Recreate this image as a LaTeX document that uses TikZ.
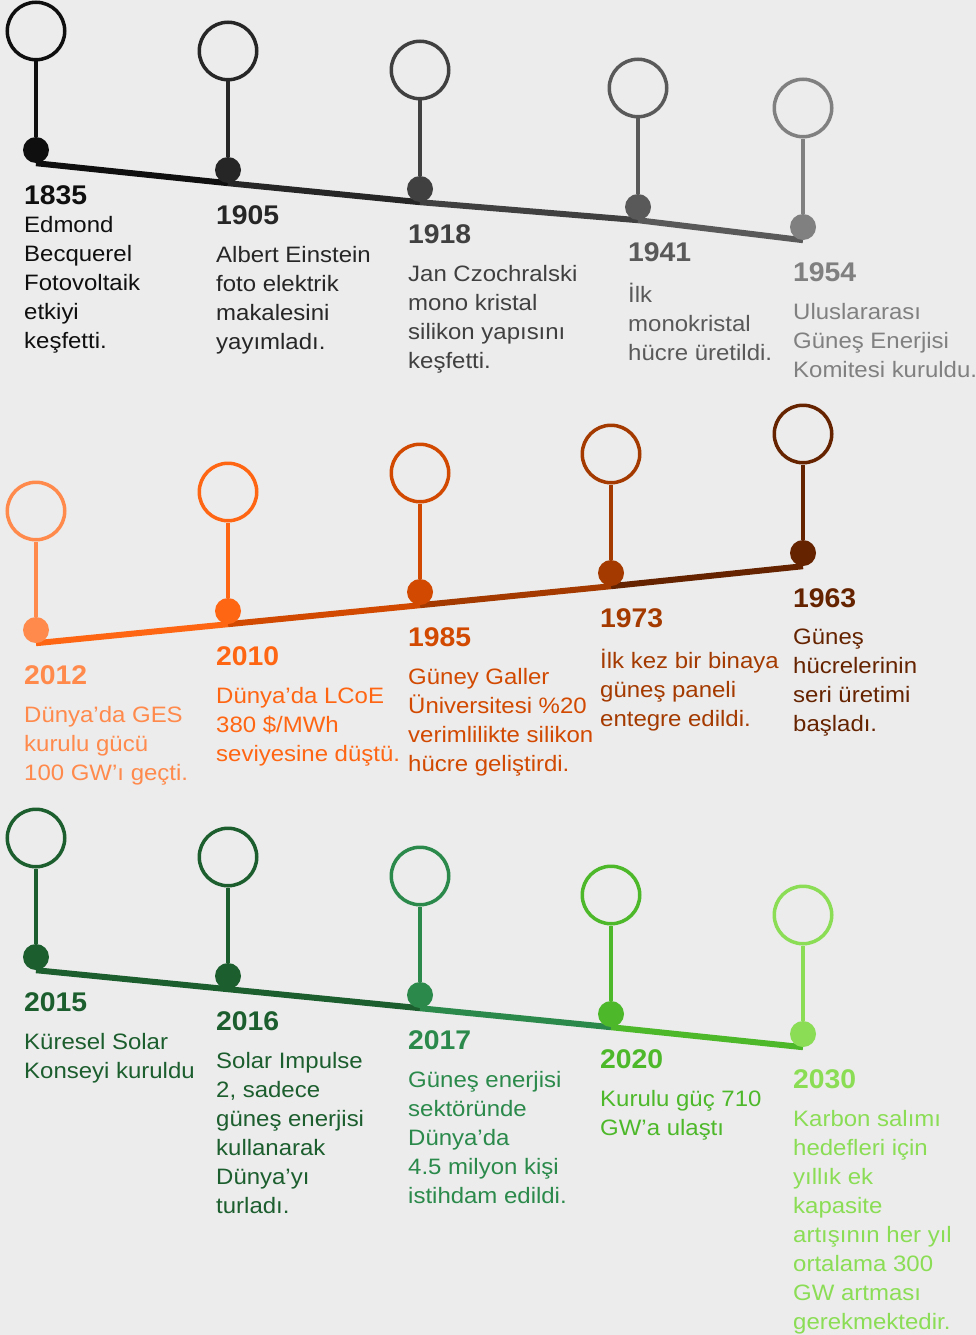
\documentclass[tikz,border=0pt]{standalone}
\usepackage{fontspec}
\setmainfont{Liberation Sans}
\newfontfamily\yearfont[FakeStretch=1.05]{Liberation Sans}
\newfontfamily\descfont[FakeStretch=1.075]{Liberation Sans}
\usepackage{xcolor}
\usetikzlibrary{positioning,backgrounds}

% one colour per milestone
\definecolor{paper}{HTML}{ECECEC}
\definecolor{c1835}{HTML}{0F0F0F}
\definecolor{c1905}{HTML}{262626}
\definecolor{c1918}{HTML}{404040}
\definecolor{c1941}{HTML}{595959}
\definecolor{c1954}{HTML}{808080}
\definecolor{c2012}{HTML}{FF8A4C}
\definecolor{c2010}{HTML}{FF6613}
\definecolor{c1985}{HTML}{D24A02}
\definecolor{c1973}{HTML}{A43A00}
\definecolor{c1963}{HTML}{662300}
\definecolor{c2015}{HTML}{1C5E2E}
\definecolor{c2016}{HTML}{1C5E2E}
\definecolor{c2017}{HTML}{2B8A4B}
\definecolor{c2020}{HTML}{4DB82A}
\definecolor{c2030}{HTML}{8ADD55}

\tikzset{
  ring/.style={circle, draw, line width=3.5pt, minimum size=57.5pt, inner sep=0pt},
  pin/.style={circle, minimum size=26pt, inner sep=0pt},
  stem/.style={line width=3.5pt},
  axis/.style={line width=6pt},
  year/.style={anchor=base west, inner sep=0pt, font=\yearfont\bfseries\fontsize{27}{32}\selectfont},
  desc/.style={inner sep=0pt, align=left, font=\descfont\fontsize{22.3}{29}\selectfont, execute at begin node=\strut},
}

\begin{document}
\begin{tikzpicture}[x=1pt, y=-1pt]
    \useasboundingbox (0,0) rectangle (976,1335);

    % ---- first line: 1835 - 1954
    \node [pin, fill=c1835] (d1835) at (36,150) {};
    \node [ring, draw=c1835] (r1835) at (36,31) {};
    \node [year, text=c1835] (y1835) at (24,204) {1835};
    \node [desc, text=c1835, below right=11.7pt and 0pt of y1835.base west] (t1835)
        {Edmond\\Becquerel\\Fotovoltaik\\etkiyi\\keşfetti.};

    \node [pin, fill=c1905] (d1905) at (228,170) {};
    \node [ring, draw=c1905] (r1905) at (228,51) {};
    \node [year, text=c1905] (y1905) at (216,224) {1905};
    \node [desc, text=c1905, below right=22.2pt and 0pt of y1905.base west] (t1905)
        {Albert Einstein\\foto elektrik\\makalesini\\yayımladı.};

    \node [pin, fill=c1918] (d1918) at (420,189) {};
    \node [ring, draw=c1918] (r1918) at (420,70) {};
    \node [year, text=c1918] (y1918) at (408,243) {1918};
    \node [desc, text=c1918, below right=22.2pt and 0pt of y1918.base west] (t1918)
        {Jan Czochralski\\mono kristal\\silikon yapısını\\keşfetti.};

    \node [pin, fill=c1941] (d1941) at (638,207) {};
    \node [ring, draw=c1941] (r1941) at (638,88) {};
    \node [year, text=c1941] (y1941) at (628,261) {1941};
    \node [desc, text=c1941, below right=22.2pt and 0pt of y1941.base west] (t1941)
        {İlk\\monokristal\\hücre üretildi.};

    \node [pin, fill=c1954] (d1954) at (803,227) {};
    \node [ring, draw=c1954] (r1954) at (803,108) {};
    \node [year, text=c1954] (y1954) at (793,281) {1954};
    \node [desc, text=c1954, below right=22.2pt and 0pt of y1954.base west] (t1954)
        {Uluslararası\\Güneş Enerjisi\\Komitesi kuruldu.};

    % ---- second line: 1963 - 2012, read from the right
    \node [pin, fill=c2012] (d2012) at (36,630) {};
    \node [ring, draw=c2012] (r2012) at (36,511) {};
    \node [year, text=c2012] (y2012) at (24,684) {2012};
    \node [desc, text=c2012, below right=22.2pt and 0pt of y2012.base west] (t2012)
        {Dünya’da GES\\kurulu gücü\\100 GW’ı geçti.};

    \node [pin, fill=c2010] (d2010) at (228,611) {};
    \node [ring, draw=c2010] (r2010) at (228,492) {};
    \node [year, text=c2010] (y2010) at (216,665) {2010};
    \node [desc, text=c2010, below right=22.2pt and 0pt of y2010.base west] (t2010)
        {Dünya’da LCoE\\380 \$/MWh\\seviyesine düştü.};

    \node [pin, fill=c1985] (d1985) at (420,592) {};
    \node [ring, draw=c1985] (r1985) at (420,473) {};
    \node [year, text=c1985] (y1985) at (408,646) {1985};
    \node [desc, text=c1985, below right=22.2pt and 0pt of y1985.base west] (t1985)
        {Güney Galler\\Üniversitesi \%20\\verimlilikte silikon\\hücre geliştirdi.};

    \node [pin, fill=c1973] (d1973) at (611,573) {};
    \node [ring, draw=c1973] (r1973) at (611,454) {};
    \node [year, text=c1973] (y1973) at (600,627) {1973};
    \node [desc, text=c1973, below right=22.2pt and 0pt of y1973.base west] (t1973)
        {İlk kez bir binaya\\güneş paneli\\entegre edildi.};

    \node [pin, fill=c1963] (d1963) at (803,553) {};
    \node [ring, draw=c1963] (r1963) at (803,434) {};
    \node [year, text=c1963] (y1963) at (793,607) {1963};
    \node [desc, text=c1963, below right=22.2pt and 0pt of y1963.base west] (t1963)
        {Güneş\\hücrelerinin\\seri üretimi\\başladı.};

    % ---- third line: 2015 - 2030
    \node [pin, fill=c2015] (d2015) at (36,957) {};
    \node [ring, draw=c2015] (r2015) at (36,838) {};
    \node [year, text=c2015] (y2015) at (24,1011) {2015};
    \node [desc, text=c2015, below right=22.2pt and 0pt of y2015.base west] (t2015)
        {Küresel Solar\\Konseyi kuruldu};

    \node [pin, fill=c2016] (d2016) at (228,976) {};
    \node [ring, draw=c2016] (r2016) at (228,857) {};
    \node [year, text=c2016] (y2016) at (216,1030) {2016};
    \node [desc, text=c2016, below right=22.2pt and 0pt of y2016.base west] (t2016)
        {Solar Impulse\\2, sadece\\güneş enerjisi\\kullanarak\\Dünya’yı\\turladı.};

    \node [pin, fill=c2017] (d2017) at (420,995) {};
    \node [ring, draw=c2017] (r2017) at (420,876) {};
    \node [year, text=c2017] (y2017) at (408,1049) {2017};
    \node [desc, text=c2017, below right=22.2pt and 0pt of y2017.base west] (t2017)
        {Güneş enerjisi\\sektöründe\\Dünya’da\\4.5 milyon kişi\\istihdam edildi.};

    \node [pin, fill=c2020] (d2020) at (611,1014) {};
    \node [ring, draw=c2020] (r2020) at (611,895) {};
    \node [year, text=c2020] (y2020) at (600,1068) {2020};
    \node [desc, text=c2020, below right=22.2pt and 0pt of y2020.base west] (t2020)
        {Kurulu güç 710\\GW’a ulaştı};

    \node [pin, fill=c2030] (d2030) at (803,1034) {};
    \node [ring, draw=c2030] (r2030) at (803,915) {};
    \node [year, text=c2030] (y2030) at (793,1088) {2030};
    \node [desc, text=c2030, below right=22.2pt and 0pt of y2030.base west] (t2030)
        {Karbon salımı\\hedefleri için\\yıllık ek\\kapasite\\artışının her yıl\\ortalama 300\\GW artması\\gerekmektedir.};

    % stems
    \foreach \y in {1835,1905,1918,1941,1954,2012,2010,1985,1973,1963,2015,2016,2017,2020,2030}
        \draw [stem, c\y] (r\y) -- (d\y);

    % time axes sit under the pins
    \begin{pgfonlayer}{background}
        \fill [paper] (0,0) rectangle (976,1335);
        \draw [axis, c1835] (d1835.south) -- (d1905.south);
        \draw [axis, c1905] (d1905.south) -- (d1918.south);
        \draw [axis, c1918] (d1918.south) -- (d1941.south);
        \draw [axis, c1941] (d1941.south) -- (d1954.south);

        \draw [axis, c2010] (d2012.south) -- (d2010.south);
        \draw [axis, c1985] (d2010.south) -- (d1985.south);
        \draw [axis, c1973] (d1985.south) -- (d1973.south);
        \draw [axis, c1963] (d1973.south) -- (d1963.south);

        \draw [axis, c2015] (d2015.south) -- (d2016.south);
        \draw [axis, c2016] (d2016.south) -- (d2017.south);
        \draw [axis, c2017] (d2017.south) -- (d2020.south);
        \draw [axis, c2020] (d2020.south) -- (d2030.south);
    \end{pgfonlayer}
\end{tikzpicture}
\end{document}
